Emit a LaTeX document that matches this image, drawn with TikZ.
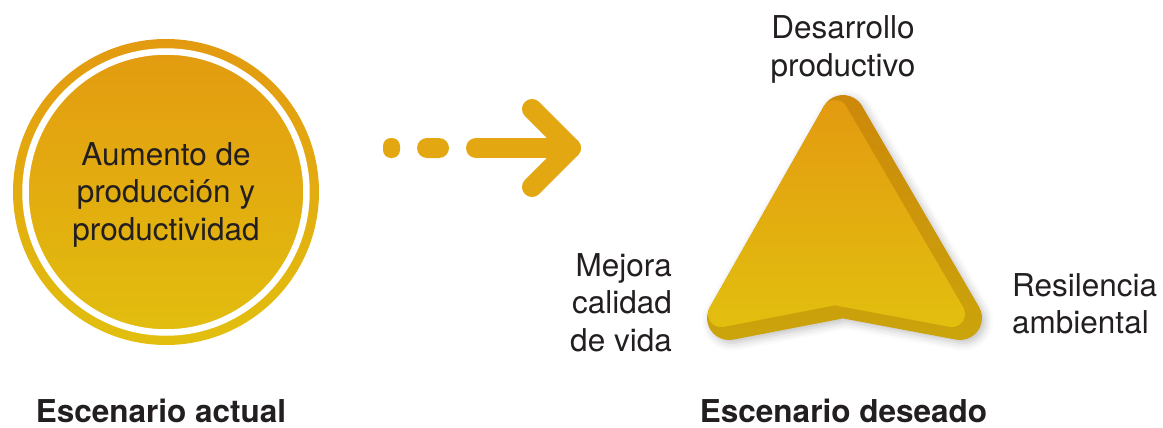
\documentclass[tikz,border=0pt]{standalone}
\usepackage{fontspec}
\setmainfont{TeX Gyre Heros}
\usetikzlibrary{shadows.blur}
\definecolor{txt}{HTML}{231F20}
\definecolor{gorange}{HTML}{E39A10}
\definecolor{gyellow}{HTML}{E2BF0F}
\definecolor{darkor}{HTML}{CC880A}
\definecolor{darkye}{HTML}{CBA40B}
\definecolor{arrowc}{HTML}{E3A711}
\newcommand\outerpath{(862.0,105.9) -- (979.0,306.9) arc[start angle=-30.2, end angle=100.7, radius=22] -- (843,318.4) -- (733.2,339.6) arc[start angle=79.1, end angle=209.5, radius=22] -- (823.9,106.2) arc[start angle=209.5, end angle=329.8, radius=22] -- cycle}
\newcommand\lightpath{(846.3,106.4) -- (963.3,307.4) arc[start angle=-30.2, end angle=100.7, radius=13.1] -- (835,305.3) -- (723.5,326.9) arc[start angle=79.1, end angle=209.5, radius=13.1] -- (823.6,106.5) arc[start angle=209.5, end angle=329.8, radius=13.1] -- cycle}
\begin{document}
\begin{tikzpicture}[x=1pt,y=-1pt,
  lbl/.style={inner sep=0pt, anchor=base, text=txt, font=\fontsize{31.5}{37.5}\selectfont},
  bold/.style={lbl, font=\fontsize{31.5}{37.5}\selectfont\bfseries},
  piece/.style={arrowc, line width=20pt, line cap=round, line join=round}]
\useasboundingbox (0,0) rectangle (1163,428);

% current scenario circle
\shade[top color=gorange, bottom color=gyellow] (166,192) circle[radius=153pt];
\draw[white, line width=6.5pt] (166,192) circle[radius=140.5pt];
\node[lbl] (c) at (166,165) {\begin{tabular}[t]{@{}c@{}}Aumento de\\producción y\\productividad\end{tabular}};

% dashed arrow
\fill[arrowc, rounded corners=8pt] (383,138) rectangle (400,158);
\fill[arrowc, rounded corners=10pt] (417,138) rectangle (449,158);
\draw[piece] (476,148) -- (571,148);
\draw[piece] (532,109) -- (571,148) -- (532,187);

% desired scenario triangle
\shade[top color=darkor, bottom color=darkye, blur shadow={shadow xshift=3pt, shadow yshift=-3pt, shadow blur radius=8pt, shadow opacity=25}] \outerpath;
\begin{scope}
\clip \outerpath;
\shade[top color=gorange, bottom color=gyellow] \lightpath;
\end{scope}

\node[lbl] (top) at (843,39) {\begin{tabular}[t]{@{}c@{}}Desarrollo\\productivo\end{tabular}};
\node[lbl, anchor=base east] (left) at (672,276) {\begin{tabular}[t]{@{}r@{}}Mejora\\calidad\\de vida\end{tabular}};
\node[lbl, anchor=base west] (right) at (1012,296) {\begin{tabular}[t]{@{}l@{}}Resilencia\\ambiental\end{tabular}};

\node[bold] (t1) at (161,422) {Escenario actual};
\node[bold] (t2) at (843.5,422) {Escenario deseado};
\end{tikzpicture}
\end{document}
